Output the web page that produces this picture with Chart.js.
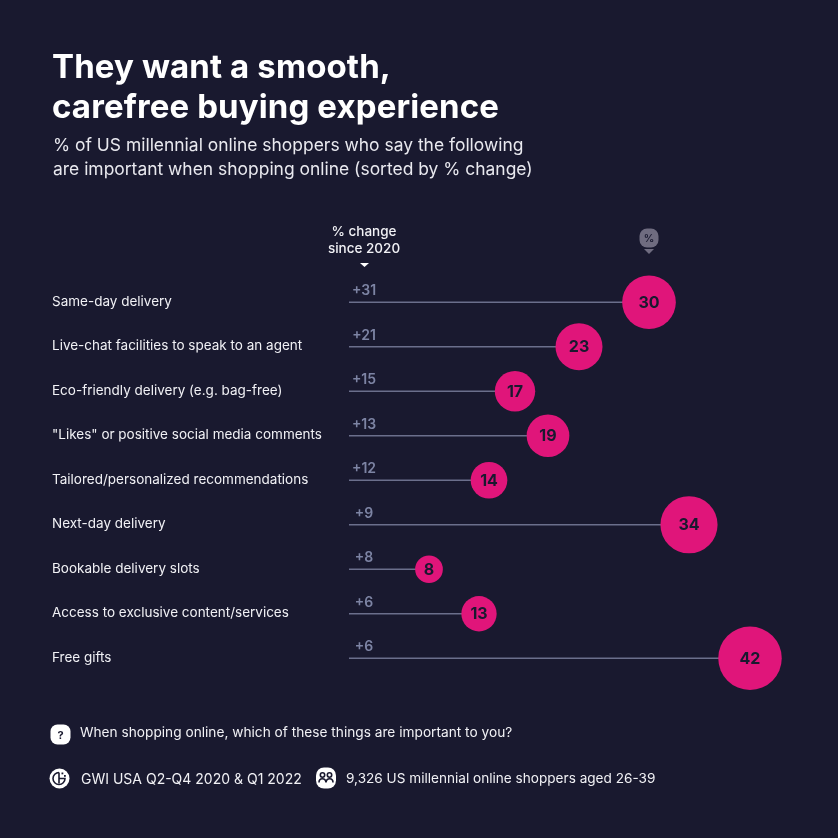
<!DOCTYPE html>
<html>
<head>
<meta charset="utf-8">
<script src="https://cdn.jsdelivr.net/npm/chart.js@4"></script>
<style>
  html, body { margin: 0; padding: 0; background: #19192f; }
  #wrap { position: relative; width: 838px; height: 838px; overflow: hidden; font-family: Inter, sans-serif; color: #fff; }
  canvas { position: absolute; left: 0; top: 0; }
  .txt { position: absolute; white-space: nowrap; }
  #title { left: 52px; top: 45.5px; font-size: 33px; line-height: 40px; font-weight: 700; letter-spacing: 0.12px; }
  #subtitle { left: 53px; top: 133px; font-size: 17.45px; line-height: 23.5px; color: #e9e9ef; }
  .foot { font-size: 13.7px; color: #f1f1f5; }
  svg { position: absolute; }
</style>
</head>
<body>
<div id="wrap">
  <canvas id="chartCanvas" width="838" height="838"></canvas>
  <div class="txt" id="title">They want a smooth,<br>carefree buying experience</div>
  <div class="txt" id="subtitle">% of US millennial online shoppers who say the following<br>are important when shopping online (sorted by % change)</div>

  <div class="txt foot" style="left:80px;top:724px">When shopping online, which of these things are important to you?</div>
  <div class="txt foot" style="left:81px;top:770px;font-size:14px">GWI USA Q2-Q4 2020 &amp; Q1 2022</div>
  <div class="txt foot" style="left:346px;top:770px;font-size:13.6px">9,326 US millennial online shoppers aged 26-39</div>

  <!-- question icon -->
  <svg style="left:50px;top:724px" width="21" height="21" viewBox="0 0 21 21">
    <rect x="0.5" y="0.5" width="20" height="20" rx="7" fill="#fff"/>
    <text x="10.5" y="14.5" text-anchor="middle" font-family="Inter" font-size="11" font-weight="700" fill="#19192f">?</text>
  </svg>
  <!-- GWI logo -->
  <svg style="left:49px;top:768px" width="21" height="21" viewBox="0 0 21 21">
    <circle cx="10.5" cy="10.5" r="10" fill="#fff"/>
    <path d="M10 4.5a6 6 0 1 0 6 6h-6" fill="none" stroke="#19192f" stroke-width="1.6"/>
    <path d="M10 4.5v11" stroke="#19192f" stroke-width="1.6"/>
    <rect x="12.5" y="4.5" width="1.8" height="1.8" fill="#19192f"/>
    <rect x="15" y="7" width="1.8" height="1.8" fill="#19192f"/>
  </svg>
  <!-- people icon -->
  <svg style="left:316px;top:767px" width="20" height="22" viewBox="0 0 20 22">
    <rect x="0" y="0.5" width="20" height="21" rx="8" fill="#fff"/>
    <circle cx="6.5" cy="8" r="2.2" fill="none" stroke="#19192f" stroke-width="1.6"/>
    <circle cx="13.5" cy="8" r="2.2" fill="none" stroke="#19192f" stroke-width="1.6"/>
    <path d="M3 15.5c0-5 6.5-5 7 0M10 15.5c.5-5 7-5 7 0" fill="none" stroke="#19192f" stroke-width="1.6"/>
  </svg>
  <!-- % badge over the bubbles -->
  <svg style="left:639px;top:228px" width="20" height="28" viewBox="0 0 20 28">
    <rect x="0.5" y="0.5" width="19" height="19" rx="7.5" fill="#6f6c80"/>
    <path d="M5 21h10l-5 5z" fill="#6f6c80"/>
    <text x="10" y="14" text-anchor="middle" font-family="Inter" font-size="10.5" font-weight="600" fill="#19192f">%</text>
  </svg>
</div>

<script>
// --- Data ---
const categories = [
  "Same-day delivery",
  "Live-chat facilities to speak to an agent",
  "Eco-friendly delivery (e.g. bag-free)",
  "\"Likes\" or positive social media comments",
  "Tailored/personalized recommendations",
  "Next-day delivery",
  "Bookable delivery slots",
  "Access to exclusive content/services",
  "Free gifts"
];
const changeSince2020 = [31, 21, 15, 13, 12, 9, 8, 6, 6];
const percentValues = [30, 23, 17, 19, 14, 34, 8, 13, 42];
// where the bubble sits on the x axis
const bubblePositions = [30, 23, 16.6, 19.9, 14, 34, 8, 13, 40.1];

const PINK = "#e0157a";
const DARK = "#19192f";
const GREY = "#7d84a4";
const LINE = "#6b6f8c";

// --- Labels on top of the marks ---
const markLabels = {
  id: "markLabels",
  afterDatasetsDraw(chart) {
    const ctx = chart.ctx;
    const { x, y } = chart.scales;
    ctx.save();
    ctx.textAlign = "center";
    ctx.textBaseline = "middle";

    // % change numbers above each line
    ctx.font = "600 14px Inter";
    ctx.fillStyle = GREY;
    changeSince2020.forEach((v, i) => {
      ctx.fillText("+" + v, x.getPixelForValue(1.5), y.getPixelForValue(i) - 11);
    });

    // values inside the bubbles
    ctx.font = "700 16px Inter";
    ctx.fillStyle = DARK;
    percentValues.forEach((v, i) => {
      ctx.fillText(v, x.getPixelForValue(bubblePositions[i]), y.getPixelForValue(i) + 0.5);
    });

    // column header
    ctx.font = "500 13.5px Inter";
    ctx.fillStyle = "#f1f1f5";
    ctx.fillText("% change", x.getPixelForValue(1.5), 232);
    ctx.fillText("since 2020", x.getPixelForValue(1.5), 249);
    ctx.fillStyle = "#fff";
    ctx.beginPath();
    ctx.moveTo(360, 263);
    ctx.lineTo(369, 263);
    ctx.lineTo(364.5, 267);
    ctx.fill();
    ctx.restore();
  }
};

// --- Lines, one per row, from the axis to the bubble ---
const lineDatasets = categories.map((c, i) => ({
  type: "line",
  data: [{ x: 0, y: c }, { x: bubblePositions[i], y: c }],
  borderColor: LINE,
  borderWidth: 1.3,
  pointRadius: 0,
  order: 2
}));

const bubbleDataset = {
  type: "bubble",
  data: categories.map((c, i) => ({ x: bubblePositions[i], y: c, v: percentValues[i] })),
  backgroundColor: PINK,
  borderWidth: 0,
  clip: false,
  radius: ctx => Math.sqrt(ctx.raw.v) * 4.9,
  order: 1
};

new Chart(document.getElementById("chartCanvas"), {
  data: { labels: categories, datasets: [...lineDatasets, bubbleDataset] },
  options: {
    responsive: false,
    animation: false,
    events: [],
    layout: { autoPadding: false, padding: { left: 52, top: 280, bottom: 157.5, right: 0 } },
    plugins: { legend: { display: false }, tooltip: { enabled: false } },
    scales: {
      x: { type: "linear", min: 0, max: 48.9, display: false },
      y: {
        type: "category",
        offset: true,
        afterFit(scale) { scale.width = 297; },
        border: { display: false },
        grid: { display: false },
        ticks: {
          crossAlign: "far",
          padding: 0,
          autoSkip: false,
          labelOffset: -0.5,
          color: "#f1f1f5",
          font: { family: "Inter", size: 13.5 }
        }
      }
    }
  },
  plugins: [markLabels]
});
</script>
</body>
</html>
